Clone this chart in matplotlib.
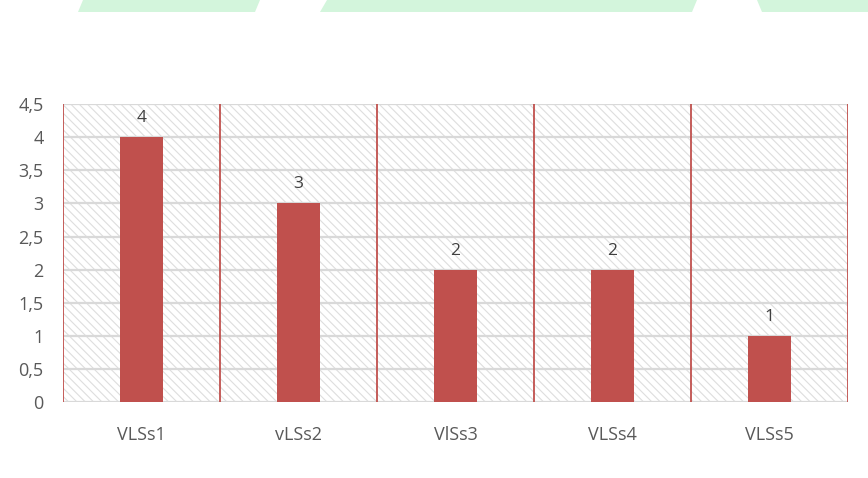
import matplotlib.pyplot as plt
from matplotlib.patches import Rectangle, Polygon

categories = ["VLSs1", "vLSs2", "VlSs3", "VLSs4", "VLSs5"]
values = [4, 3, 2, 2, 1]
y_ticks = [0, 0.5, 1, 1.5, 2, 2.5, 3, 3.5, 4, 4.5]
y_tick_labels = ["0", "0,5", "1", "1,5", "2", "2,5", "3", "3,5", "4", "4,5"]

bar_color = "#C0504D"
text_color = "#595959"

plt.rcParams["font.family"] = ["Open Sans", "DejaVu Sans"]
plt.rcParams["hatch.color"] = "#DEDEDE"
plt.rcParams["hatch.linewidth"] = 0.8

fig = plt.figure(figsize=(8.68, 4.78), dpi=100)
ax = fig.add_axes([0.0726, 0.159, 0.9044, 0.623])

# striped plot area background
ax.add_patch(Rectangle((0, 0), 1, 1, transform=ax.transAxes, facecolor="white",
                       linewidth=0, hatch="\\\\\\\\", zorder=0))

x = list(range(len(categories)))
ax.bar(x, values, width=0.27, color=bar_color, zorder=3)
for xi, v in zip(x, values):
    ax.annotate(str(v), (xi, v), xytext=(0, 8), textcoords="offset points",
                ha="center", va="bottom", fontsize=12.5, color="#404040")

ax.set_xlim(-0.5, len(categories) - 0.5)
ax.set_ylim(0, 4.5)
ax.set_yticks(y_ticks)
ax.set_yticklabels(y_tick_labels)
ax.set_xticks(x)
ax.set_xticklabels(categories)
ax.tick_params(axis="both", length=0, labelsize=13, colors=text_color)
ax.tick_params(axis="x", pad=17)
ax.tick_params(axis="y", pad=14)

for yt in y_ticks:
    ax.axhline(yt, color="#D9D9D9", linewidth=1.6, zorder=1)
for xb in range(len(categories) + 1):
    ax.axvline(xb - 0.5, color=bar_color, linewidth=1.3, zorder=2)

for side in ax.spines.values():
    side.set_visible(False)

# faint banner strips along the top edge
strips = [
    [(83, 0), (260, 0), (255, 12), (78, 12)],
    [(327, 0), (697, 0), (692, 12), (320, 12)],
    [(757, 0), (868, 0), (868, 12), (762, 12)],
]
for pts in strips:
    fig.patches.append(Polygon([(px / 868, 1 - py / 478) for px, py in pts],
                               closed=True, transform=fig.transFigure,
                               facecolor="#D3F5DC", edgecolor="none"))

fig.savefig("out.png", dpi=100)
